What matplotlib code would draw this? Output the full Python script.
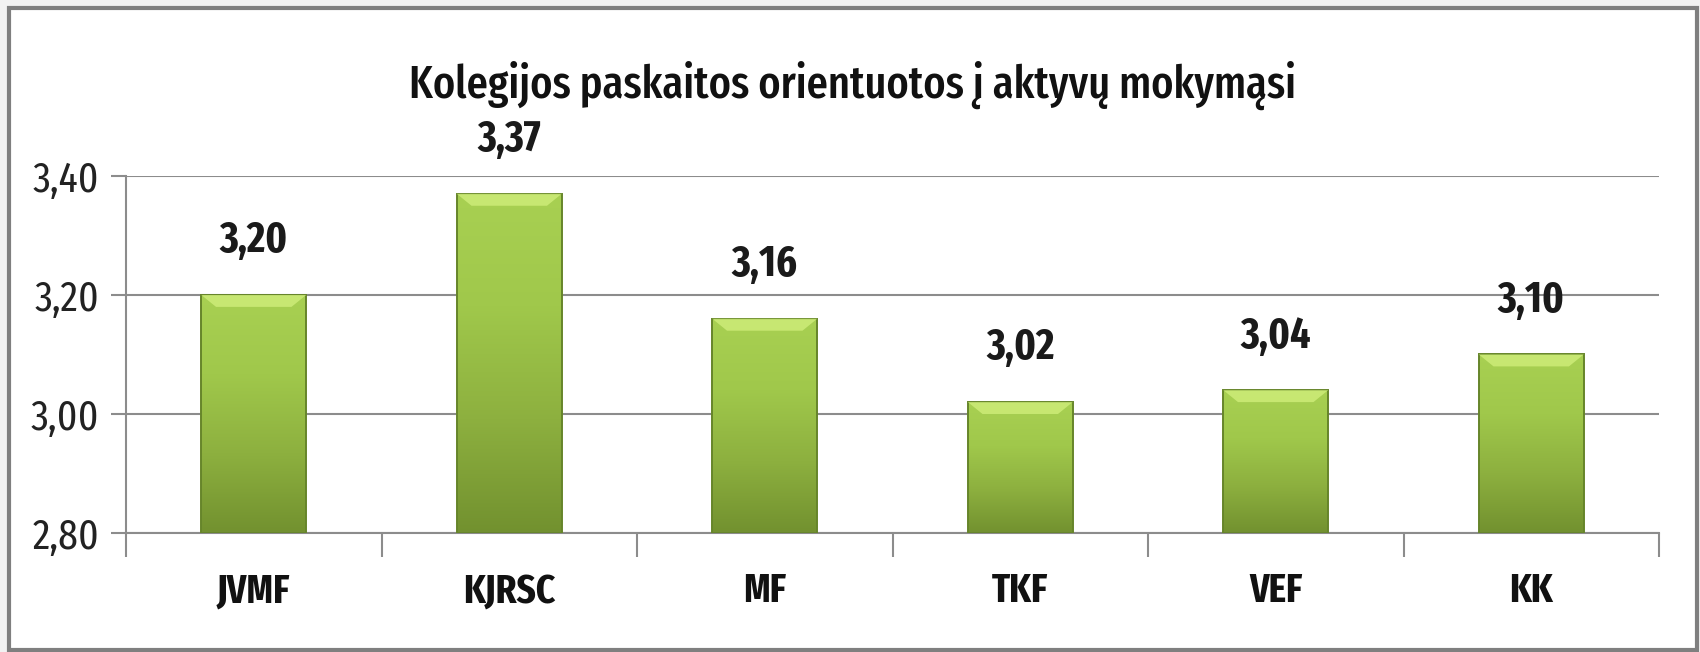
import numpy as np
import matplotlib.pyplot as plt
from matplotlib.patches import Rectangle
from matplotlib.colors import LinearSegmentedColormap

categories = ["JVMF", "KJRSC", "MF", "TKF", "VEF", "KK"]
values = [3.20, 3.37, 3.16, 3.02, 3.04, 3.10]
value_labels = ["3,20", "3,37", "3,16", "3,02", "3,04", "3,10"]
yticks = [2.80, 3.00, 3.20, 3.40]
ytick_labels = ["2,80", "3,00", "3,20", "3,40"]
title = "Kolegijos paskaitos orientuotos į aktyvų mokymąsi"

plt.rcParams['font.family'] = ['Fira Sans Extra Condensed', 'DejaVu Sans']

fig = plt.figure(figsize=(17, 6.52), dpi=100)
fig.patch.set_facecolor("#f2f2f2")
# chart frame
fig.patches.append(Rectangle((9 / 1700, 2 / 652), 1688 / 1700, 642 / 652,
                             transform=fig.transFigure, facecolor="white",
                             edgecolor="#7f7f7f", linewidth=3, zorder=-5))

ax = fig.add_axes([126 / 1700, 1 - 533 / 652, (1659 - 126) / 1700, (533 - 176) / 652])
ax.set_facecolor("none")

x = np.arange(len(categories))
width = 0.41
ymin = 2.80

grad = LinearSegmentedColormap.from_list("g", ["#72912f", "#8db03f", "#a0c84b", "#a8d052"])
gimg = np.linspace(0, 1, 256).reshape(-1, 1)

bars = ax.bar(x, np.array(values) - ymin, width, bottom=ymin, color="none",
              edgecolor="#66852a", linewidth=1.4, zorder=3)
for b in bars:
    x0, y0 = b.get_x(), b.get_y()
    w, h = b.get_width(), b.get_height()
    im = ax.imshow(gimg, cmap=grad, origin="lower", aspect="auto",
                   extent=[x0, x0 + w, y0, y0 + h], zorder=2, interpolation="bicubic")
    im.set_clip_path(b)
    # lighter bevel at the top
    ax.add_patch(plt.Polygon([[x0, y0 + h], [x0 + w, y0 + h],
                              [x0 + w * 0.86, y0 + h - 0.02], [x0 + w * 0.14, y0 + h - 0.02]],
                             closed=True, facecolor="#cdec78", edgecolor="none", alpha=0.85, zorder=3))

for xi, v, lab in zip(x, values, value_labels):
    ax.text(xi, v + 0.055, lab, ha="center", va="bottom", fontsize=31,
            fontweight="bold", color="#1a1a1a", clip_on=False)

ax.set_xlim(-0.5, len(categories) - 0.5)
ax.set_ylim(2.80, 3.40)
ax.set_yticks(yticks)
ax.set_yticklabels(ytick_labels, fontsize=31, color="#222222")
ax.yaxis.grid(True, color="#8c8c8c", linewidth=1.5, zorder=1)
ax.set_axisbelow(True)

ax.set_xticks(x)
ax.set_xticklabels(categories, fontsize=29, fontweight="bold", color="#111111")
ax.set_xticks(np.arange(-0.5, len(categories)), minor=True)
ax.tick_params(axis="x", which="major", length=0, pad=28)
ax.tick_params(axis="x", which="minor", length=17, width=1.5, color="#8c8c8c", direction="out")
ax.tick_params(axis="y", length=11, width=1.5, color="#8c8c8c", pad=8)

for side in ["top", "right"]:
    ax.spines[side].set_visible(False)
for side in ["left", "bottom"]:
    ax.spines[side].set_color("#8c8c8c")
    ax.spines[side].set_linewidth(1.5)

fig.text(852 / 1700, 1 - 85 / 652, title, ha="center", va="center", fontsize=33,
         fontweight="medium", color="#111111")

fig.savefig("out.png", dpi=100, facecolor=fig.get_facecolor())
